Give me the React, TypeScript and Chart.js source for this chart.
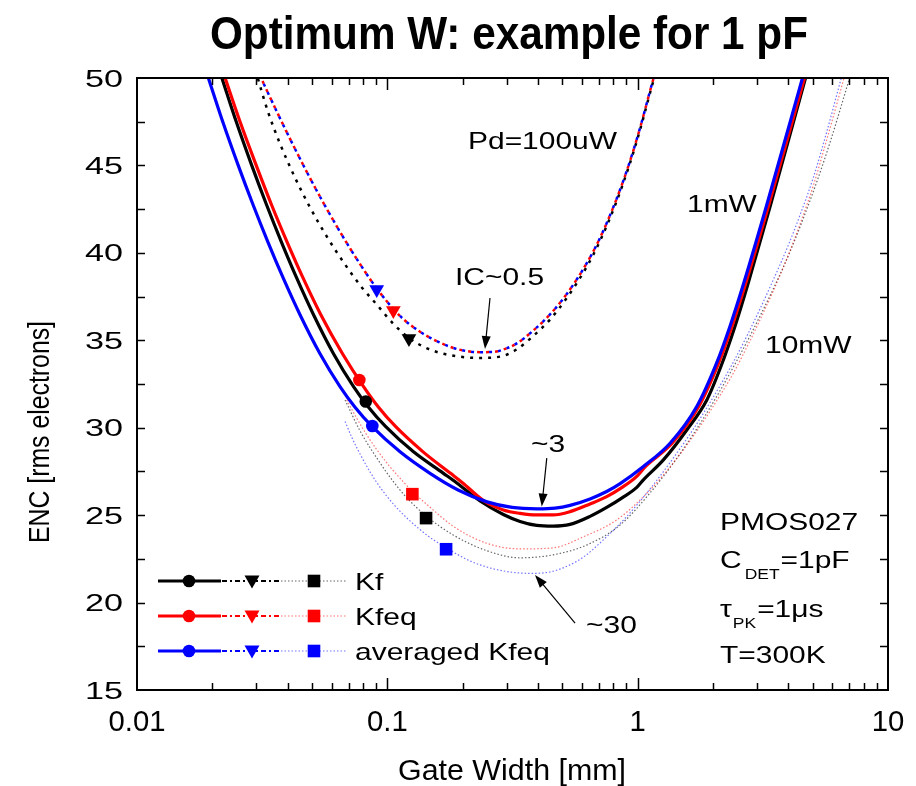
import React, { useEffect, useRef } from 'react';
import { Chart, registerables } from 'chart.js';

Chart.register(...registerables);

const FAMILY = '"Liberation Sans", Arial, sans-serif';

// ---------------- data (Gate Width [mm] vs ENC [rms electrons]) ----------------
const seriesNames = ['Kf', 'Kfeq', 'averaged Kfeq'];
const seriesColors = ['#000000', '#ff0000', '#0000ff'];
const sparseColors = ['rgba(0,0,0,0.6)', 'rgba(255,0,0,0.55)', 'rgba(0,0,255,0.55)'];

// Pd = 1 mW (solid)
const kf1mX = [0.02183, 0.02498, 0.02868, 0.03292, 0.03779, 0.04338, 0.05072, 0.06095, 0.07328, 0.08412, 0.09835, 0.1272, 0.1676, 0.1894, 0.2347, 0.2907, 0.339, 0.3953, 0.4592, 0.537, 0.6453, 0.752, 0.8665, 0.9917, 1.054, 1.267, 1.571, 1.889, 2.154, 2.45, 2.763, 3.396, 4.695];
const kf1mY = [50, 47.45, 45.03, 42.75, 40.6, 38.58, 36.46, 34.23, 32.35, 31.17, 30.07, 28.62, 27.39, 26.84, 25.81, 25.04, 24.64, 24.41, 24.37, 24.47, 24.93, 25.44, 25.99, 26.59, 27.02, 28.16, 29.87, 31.59, 33.53, 35.82, 38.26, 42.75, 50.06];
const kfeq1mX = [0.02249, 0.02587, 0.02989, 0.03446, 0.03982, 0.046, 0.05424, 0.06622, 0.08035, 0.09222, 0.1078, 0.1389, 0.1789, 0.2001, 0.2434, 0.2907, 0.339, 0.3953, 0.4592, 0.537, 0.6453, 0.752, 0.8665, 0.9917, 1.0735, 1.373, 1.754, 2.109, 2.384, 2.701, 3.341, 4.652];
const kfeq1mY = [50, 47.45, 45.03, 42.75, 40.6, 38.58, 36.46, 34.23, 32.35, 31.17, 30.07, 28.62, 27.39, 26.84, 25.81, 25.3, 25.1, 25.01, 25.01, 25.2, 25.64, 26.06, 26.59, 27.22, 27.78, 29.11, 31.21, 33.72, 35.82, 38.26, 42.75, 50.06];
const avg1mX = [0.01928, 0.02206, 0.02533, 0.02908, 0.03338, 0.03832, 0.04479, 0.05384, 0.06471, 0.0743, 0.08687, 0.1124, 0.1481, 0.1917, 0.2503, 0.3151, 0.3964, 0.4677, 0.537, 0.6453, 0.752, 0.851, 1.054, 1.347, 1.722, 2.07, 2.34, 2.652, 3.28, 4.566];
const avg1mY = [50, 47.45, 45.03, 42.75, 40.6, 38.58, 36.46, 34.23, 32.35, 31.17, 30.07, 28.62, 27.39, 26.44, 25.76, 25.44, 25.36, 25.4, 25.56, 25.93, 26.35, 26.8, 27.78, 29.11, 31.21, 33.72, 35.82, 38.26, 42.75, 50.06];

// Pd = 100 uW (dense dotted)
const kf100X = [0.02975, 0.03052, 0.03338, 0.03727, 0.04278, 0.04912, 0.05743, 0.06776, 0.07853, 0.091, 0.1054, 0.1221, 0.1415, 0.1624, 0.1952, 0.2347, 0.2907, 0.3289, 0.3831, 0.4467, 0.521, 0.6261, 0.7076, 0.8251, 0.9325, 1.0223, 1.1385, 1.174];
const kf100Y = [50.46, 49.89, 48.06, 46.24, 44.3, 42.6, 40.91, 39.34, 38.08, 37.02, 35.96, 35.13, 34.59, 34.28, 34.06, 33.99, 34.11, 34.48, 35.25, 36.19, 37.42, 39.21, 40.69, 42.97, 45.15, 47.04, 49.51, 50.17];
const kfeq100X = [0.03101, 0.03199, 0.04086, 0.05384, 0.07096, 0.091, 0.1124, 0.1351, 0.17, 0.1988, 0.2347, 0.2645, 0.2907, 0.3289, 0.3831, 0.4467, 0.521, 0.6261, 0.7076, 0.8251, 0.9325, 1.0223, 1.1385, 1.174];
const kfeq100Y = [50.14, 49.71, 46.52, 43.21, 40.26, 37.94, 36.39, 35.49, 34.74, 34.43, 34.32, 34.33, 34.47, 34.82, 35.56, 36.48, 37.65, 39.41, 40.86, 43.11, 45.26, 47.15, 49.62, 50.29];
const avg100X = [0.03101, 0.03199, 0.04086, 0.05384, 0.07096, 0.091, 0.1124, 0.1351, 0.17, 0.1988, 0.2347, 0.2645, 0.2907, 0.3289, 0.3831, 0.4467, 0.521, 0.6261, 0.7076, 0.8251, 0.9325, 1.0223, 1.1385, 1.174];
const avg100Y = [50.14, 49.71, 46.52, 43.21, 40.26, 37.94, 36.39, 35.49, 34.74, 34.43, 34.32, 34.33, 34.47, 34.82, 35.56, 36.48, 37.65, 39.41, 40.86, 43.11, 45.26, 47.15, 49.62, 50.29];

// Pd = 10 mW (sparse dotted)
const kf10mX = [0.0678, 0.0778, 0.0918, 0.1044, 0.1188, 0.1428, 0.183, 0.2502, 0.339, 0.4592, 0.6279, 0.851, 1.121, 1.39, 1.671, 2.009, 2.414, 2.771, 3.112, 3.54, 4.026, 4.58, 5.21, 5.926, 6.739, 7.19];
const kf10mY = [31.59, 29.82, 28.16, 27.02, 26.04, 24.96, 23.87, 22.96, 22.56, 22.73, 23.3, 24.44, 26.27, 27.99, 29.65, 31.48, 33.48, 35.08, 36.51, 38.16, 39.94, 41.94, 44.11, 46.51, 49.14, 50.51];
const kfeq10mX = [0.0688, 0.07548, 0.08267, 0.09063, 0.1023, 0.1159, 0.1258, 0.1481, 0.1835, 0.2496, 0.339, 0.4604, 0.6067, 0.8251, 1.121, 1.389, 1.67, 2.007, 2.413, 2.77, 3.08, 3.48, 3.94, 4.455, 5.04, 5.69, 6.44, 6.739];
const kfeq10mY = [31.59, 30.54, 29.6, 28.76, 27.78, 26.9, 26.37, 25.45, 24.36, 23.39, 23.07, 23.13, 23.76, 24.73, 26.44, 27.99, 29.53, 31.24, 33.13, 34.79, 36.16, 37.82, 39.65, 41.65, 43.88, 46.46, 49.2, 50.23];
const avg10mX = [0.0678, 0.07225, 0.0778, 0.0853, 0.09524, 0.1073, 0.1232, 0.1454, 0.1748, 0.214, 0.2572, 0.3092, 0.3717, 0.4467, 0.537, 0.6163, 0.7076, 0.904, 1.121, 1.389, 1.67, 2.007, 2.413, 2.77, 3.08, 3.48, 3.94, 4.455, 5.04, 5.69, 6.44, 6.616];
const avg10mY = [30.36, 29.42, 28.5, 27.47, 26.44, 25.53, 24.67, 23.81, 23.07, 22.38, 21.98, 21.75, 21.67, 21.75, 22.16, 22.67, 23.41, 24.92, 26.5, 28.27, 29.93, 31.76, 33.76, 35.42, 36.79, 38.45, 40.22, 42.17, 44.34, 46.91, 49.77, 50.4];

// markers (order: Kf, Kfeq, averaged Kfeq)
const circleX = [0.082, 0.0773, 0.0871];
const circleY = [31.5, 32.73, 30.1];
const triangleX = [0.122, 0.1057, 0.0907];
const triangleY = [35.1, 36.7, 37.9];
const squareX = [0.1428, 0.1259, 0.1717];
const squareY = [24.83, 26.2, 23.05];

// axes
const xMin = 0.01, xMax = 10, yMin = 15, yMax = 50;
const xTickValues = [0.01, 0.1, 1, 10];
const xTickLabels = ['0.01', '0.1', '1', '10'];
const yTickValues = [15, 20, 25, 30, 35, 40, 45, 50];
const yTickLabels = ['15', '20', '25', '30', '35', '40', '45', '50'];
const yTickMarks = [17.5, 20, 22.5, 25, 27.5, 30, 32.5, 35, 37.5, 40, 42.5, 45, 47.5];

// annotation arrows (data coordinates): [xFrom, yFrom, xTo, yTo]
const arrowIC = [0.2571, 37.42, 0.2455, 34.5];
const arrow3 = [0.4334, 28.26, 0.4139, 25.49];
const arrow30 = [0.5623, 18.82, 0.389, 21.58];

const zip = (xs: number[], ys: number[]) => xs.map((x, i) => ({ x, y: ys[i] }));

function drawScaled(ctx: CanvasRenderingContext2D, s: string, x: number, y: number, font: string, sx: number, align: CanvasTextAlign = 'left') {
  ctx.save();
  ctx.font = font;
  ctx.textAlign = align;
  ctx.textBaseline = 'alphabetic';
  ctx.translate(x, y);
  ctx.scale(sx, 1);
  ctx.fillText(s, 0, 0);
  ctx.restore();
}
function widthOf(ctx: CanvasRenderingContext2D, s: string, font: string) {
  ctx.save();
  ctx.font = font;
  const w = ctx.measureText(s).width;
  ctx.restore();
  return w;
}
function fit(ctx: CanvasRenderingContext2D, s: string, font: string, target: number) {
  return target / widthOf(ctx, s, font);
}

function arrow(ctx: CanvasRenderingContext2D, x1: number, y1: number, x2: number, y2: number) {
  const ang = Math.atan2(y2 - y1, x2 - x1);
  const len = 13, hw = 4.5;
  ctx.save();
  ctx.strokeStyle = '#000';
  ctx.fillStyle = '#000';
  ctx.lineWidth = 1.2;
  ctx.beginPath();
  ctx.moveTo(x1, y1);
  ctx.lineTo(x2 - Math.cos(ang) * len * 0.8, y2 - Math.sin(ang) * len * 0.8);
  ctx.stroke();
  ctx.beginPath();
  ctx.moveTo(x2, y2);
  ctx.lineTo(x2 - Math.cos(ang) * len - Math.sin(ang) * hw, y2 - Math.sin(ang) * len + Math.cos(ang) * hw);
  ctx.lineTo(x2 - Math.cos(ang) * len + Math.sin(ang) * hw, y2 - Math.sin(ang) * len - Math.cos(ang) * hw);
  ctx.closePath();
  ctx.fill();
  ctx.restore();
}

const decoPlugin = {
  id: 'deco',
  afterDraw(chart: any) {
    const ctx: CanvasRenderingContext2D = chart.ctx;
    const a = chart.chartArea;
    const xs = chart.scales.x;
    const ys = chart.scales.y;
    ctx.save();
    ctx.fillStyle = '#000';
    ctx.strokeStyle = '#000';

    // frame
    ctx.lineWidth = 2;
    ctx.strokeRect(a.left, a.top, a.right - a.left, a.bottom - a.top);

    // y ticks (inward, both sides)
    ctx.lineWidth = 1.5;
    ctx.beginPath();
    for (const v of yTickMarks) {
      const py = Math.round(ys.getPixelForValue(v)) + 0.5;
      ctx.moveTo(a.left, py); ctx.lineTo(a.left + 8, py);
      ctx.moveTo(a.right, py); ctx.lineTo(a.right - 8, py);
    }
    // x ticks (inward, top and bottom)
    for (let d = 0.01; d < 10; d *= 10) {
      for (let m = 1; m <= 9; m++) {
        const v = d * m;
        if (v <= xMin * 1.0001 || v >= xMax * 0.9999) continue;
        const px = Math.round(xs.getPixelForValue(v)) + 0.5;
        const len = m === 1 ? 12 : 7;
        ctx.moveTo(px, a.bottom); ctx.lineTo(px, a.bottom - len);
        ctx.moveTo(px, a.top); ctx.lineTo(px, a.top + len);
      }
    }
    ctx.stroke();

    // tick labels
    const yFont = `24px ${FAMILY}`;
    const ySx = fit(ctx, '50', yFont, 38);
    yTickValues.forEach((v, i) => {
      drawScaled(ctx, yTickLabels[i], 123, ys.getPixelForValue(v) + 8.5, yFont, ySx, 'right');
    });
    const xFont = `30px ${FAMILY}`;
    const xSx = fit(ctx, '0.01', xFont, 57);
    xTickValues.forEach((v, i) => {
      drawScaled(ctx, xTickLabels[i], xs.getPixelForValue(v), 731, xFont, xSx, 'center');
    });

    // axis titles
    const tFont = `30px ${FAMILY}`;
    drawScaled(ctx, 'Gate Width [mm]', 512, 780, tFont, fit(ctx, 'Gate Width [mm]', tFont, 228), 'center');
    ctx.save();
    ctx.translate(49, 432);
    ctx.rotate(-Math.PI / 2);
    drawScaled(ctx, 'ENC [rms electrons]', 0, 0, tFont, fit(ctx, 'ENC [rms electrons]', tFont, 222), 'center');
    ctx.restore();

    // chart title
    const titleFont = `bold 46px ${FAMILY}`;
    const title = 'Optimum W: example for 1 pF';
    drawScaled(ctx, title, 509, 49, titleFont, fit(ctx, title, titleFont, 598), 'center');

    // annotations
    const aFont = `24px ${FAMILY}`;
    const aSx = fit(ctx, 'Pd=100uW', aFont, 149);
    const sFont = `14px ${FAMILY}`;
    drawScaled(ctx, 'Pd=100uW', 468, 149, aFont, aSx);
    drawScaled(ctx, '1mW', 687, 212, aFont, aSx);
    drawScaled(ctx, '10mW', 765, 353, aFont, aSx);
    drawScaled(ctx, 'IC~0.5', 455, 285, aFont, aSx);
    drawScaled(ctx, '~3', 531, 452, aFont, aSx);
    drawScaled(ctx, '~30', 586, 633, aFont, aSx);
    drawScaled(ctx, 'PMOS027', 720, 530, aFont, aSx);
    // C_DET=1pF
    let cx = 720;
    drawScaled(ctx, 'C', cx, 568, aFont, aSx);
    cx += widthOf(ctx, 'C', aFont) * aSx + 3;
    drawScaled(ctx, 'DET', cx, 579, sFont, aSx);
    cx += widthOf(ctx, 'DET', sFont) * aSx + 1;
    drawScaled(ctx, '=1pF', cx, 568, aFont, aSx);
    // tau_PK=1us
    cx = 720;
    drawScaled(ctx, 'τ', cx, 617, aFont, aSx);
    cx += widthOf(ctx, 'τ', aFont) * aSx + 1;
    drawScaled(ctx, 'PK', cx, 628, sFont, aSx);
    cx += widthOf(ctx, 'PK', sFont) * aSx + 1;
    drawScaled(ctx, '=1μs', cx, 617, aFont, aSx);
    drawScaled(ctx, 'T=300K', 720, 663, aFont, aSx);

    // arrows
    for (const ar of [arrowIC, arrow3, arrow30]) {
      arrow(ctx, xs.getPixelForValue(ar[0]), ys.getPixelForValue(ar[1]), xs.getPixelForValue(ar[2]), ys.getPixelForValue(ar[3]));
    }

    // legend
    seriesNames.forEach((name, i) => {
      const y = 581 + 35 * i;
      const col = seriesColors[i];
      ctx.save();
      ctx.strokeStyle = col; ctx.fillStyle = col;
      ctx.lineWidth = 3;
      ctx.beginPath(); ctx.moveTo(158, y); ctx.lineTo(221, y); ctx.stroke();
      ctx.lineWidth = 2.2;
      ctx.setLineDash([5, 3, 2, 3]);
      ctx.beginPath(); ctx.moveTo(222, y); ctx.lineTo(280, y); ctx.stroke();
      ctx.strokeStyle = sparseColors[i];
      ctx.lineWidth = 1.2;
      ctx.setLineDash([1.5, 2]);
      ctx.beginPath(); ctx.moveTo(281, y); ctx.lineTo(346, y); ctx.stroke();
      ctx.setLineDash([]);
      ctx.beginPath(); ctx.arc(189, y, 6.3, 0, Math.PI * 2); ctx.fill();
      ctx.beginPath();
      ctx.moveTo(252 - 7.5, y - 5.5); ctx.lineTo(252 + 7.5, y - 5.5); ctx.lineTo(252, y + 7.5); ctx.closePath(); ctx.fill();
      ctx.fillRect(314 - 6.3, y - 6.3, 12.6, 12.6);
      ctx.restore();
      drawScaled(ctx, name, 355, y + 9, aFont, aSx);
    });

    ctx.restore();
  },
};

export default function App() {
  const ref = useRef<HTMLCanvasElement>(null);
  useEffect(() => {
    const canvas = ref.current;
    if (!canvas) return;
    const line = (xsArr: number[], ysArr: number[], color: string, width: number, dash: number[], order: number, dashOffset = 0) => ({
      data: zip(xsArr, ysArr),
      borderColor: color,
      backgroundColor: color,
      borderWidth: width,
      borderDash: dash,
      borderDashOffset: dashOffset,
      pointRadius: 0,
      fill: false,
      showLine: true,
      cubicInterpolationMode: 'monotone',
      order,
    });
    const marker = (x: number, y: number, color: string, style: string, radius: number, rotation = 0) => ({
      data: [{ x, y }],
      showLine: false,
      pointStyle: style,
      pointRadius: radius,
      pointRotation: rotation,
      pointBackgroundColor: color,
      pointBorderColor: color,
      pointBorderWidth: 0,
      borderColor: color,
      backgroundColor: color,
      order: 0,
    });
    const datasets: any[] = [];
    [0, 1, 2].forEach((i) => {
      datasets.push(marker(circleX[i], circleY[i], seriesColors[i], 'circle', 6.3));
      datasets.push(marker(triangleX[i], triangleY[i], seriesColors[i], 'triangle', 8.5, 180));
      datasets.push(marker(squareX[i], squareY[i], seriesColors[i], 'rect', 8.9));
    });
    datasets.push(line(avg1mX, avg1mY, seriesColors[2], 3.2, [], 1));
    datasets.push(line(kfeq1mX, kfeq1mY, seriesColors[1], 3.2, [], 2));
    datasets.push(line(kf1mX, kf1mY, seriesColors[0], 3.2, [], 3));
    datasets.push(line(avg100X, avg100Y, seriesColors[2], 2.5, [3, 6], 4, 0));
    datasets.push(line(kfeq100X, kfeq100Y, seriesColors[1], 2.5, [3, 6], 5, 3));
    datasets.push(line(kf100X, kf100Y, seriesColors[0], 2.5, [3, 6], 6));
    datasets.push(line(avg10mX, avg10mY, sparseColors[2], 1.2, [1.5, 2], 7));
    datasets.push(line(kfeq10mX, kfeq10mY, sparseColors[1], 1.2, [1.5, 2], 8));
    datasets.push(line(kf10mX, kf10mY, sparseColors[0], 1.2, [1.5, 2], 9));

    const chart = new Chart(canvas, {
      type: 'line',
      data: { datasets },
      options: {
        responsive: false,
        devicePixelRatio: 1,
        animation: false,
        events: [],
        layout: { padding: { left: 137, top: 78, right: 28, bottom: 96 } },
        plugins: {
          legend: { display: false },
          tooltip: { enabled: false },
          title: { display: false },
        },
        scales: {
          x: { type: 'logarithmic', min: xMin, max: xMax, display: false },
          y: { type: 'linear', min: yMin, max: yMax, display: false },
        },
      } as any,
      plugins: [decoPlugin],
    });
    return () => chart.destroy();
  }, []);
  return (
    <div style={{ position: 'absolute', left: 0, top: 0, width: 916, height: 786, background: '#ffffff' }}>
      <canvas ref={ref} width={916} height={786} style={{ width: 916, height: 786, display: 'block' }} />
    </div>
  );
}
